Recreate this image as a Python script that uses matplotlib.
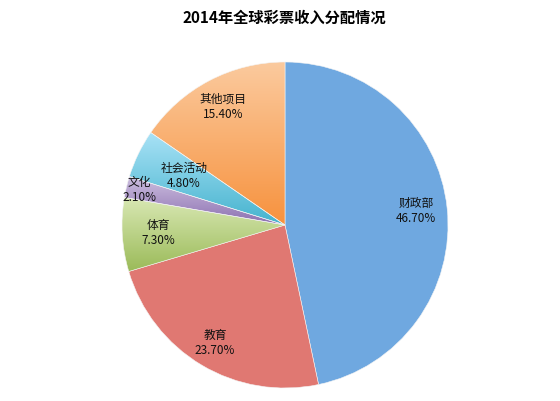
import numpy as np
import matplotlib.pyplot as plt
from matplotlib.colors import LinearSegmentedColormap

plt.rcParams['font.family'] = ['Noto Sans CJK SC', 'DejaVu Sans']

labels = ['财政部', '教育', '体育', '文化', '社会活动', '其他项目']
values = [46.7, 23.7, 7.3, 2.1, 4.8, 15.4]
# light (top) -> dark (bottom) colours, Excel style gradient
light_colors = ['#6FA8E0', '#E07872', '#D9E8B4', '#CDBFE0', '#A9E2F6', '#FBCA9E']
dark_colors = ['#6FA8E0', '#E07872', '#9BBB59', '#8C70B0', '#45B3CE', '#F7923E']
label_dist = [0.81, 0.84, 0.78, 0.92, 0.69, 0.82]

fig = plt.figure(figsize=(5.6, 4.01), dpi=100)
ax = fig.add_axes([122 / 560, 13 / 401, 326 / 560, 326 / 401])

wedges, _ = ax.pie(values, startangle=90, counterclock=False,
                   colors=dark_colors, radius=1,
                   wedgeprops=dict(linewidth=0.4, edgecolor='#f4f4f4'))

grad = np.linspace(0, 1, 256).reshape(-1, 1)
for w, c1, c2 in zip(wedges, light_colors, dark_colors):
    if c1 == c2:
        continue
    cmap = LinearSegmentedColormap.from_list('g', [c1, c2])
    path = w.get_path()
    verts = w.get_transform().transform(path.vertices)
    verts = ax.transData.inverted().transform(verts)
    x0, x1 = verts[:, 0].min(), verts[:, 0].max()
    y0, y1 = verts[:, 1].min(), verts[:, 1].max()
    im = ax.imshow(grad, cmap=cmap, extent=[x0, x1, y0, y1],
                   aspect='auto', zorder=w.get_zorder() + 0.1,
                   interpolation='bilinear')
    im.set_clip_path(w)
    w.set_zorder(w.get_zorder() + 0.2)
    w.set_facecolor('none')

for w, lab, v, d in zip(wedges, labels, values, label_dist):
    ang = np.deg2rad((w.theta1 + w.theta2) / 2)
    x, y = d * np.cos(ang), d * np.sin(ang)
    ax.text(x, y, f'{lab}\n{v:.2f}%', ha='center', va='center',
            fontsize=8.5, color='#111111', linespacing=1.2, zorder=5)

ax.set_xlim(-1, 1)
ax.set_ylim(-1, 1)
ax.set_aspect('equal')
ax.axis('off')

fig.text(284 / 560, 1 - 18 / 401, '2014年全球彩票收入分配情况',
         ha='center', va='center', fontsize=11, fontweight='bold')

fig.savefig('out.png', dpi=100)
